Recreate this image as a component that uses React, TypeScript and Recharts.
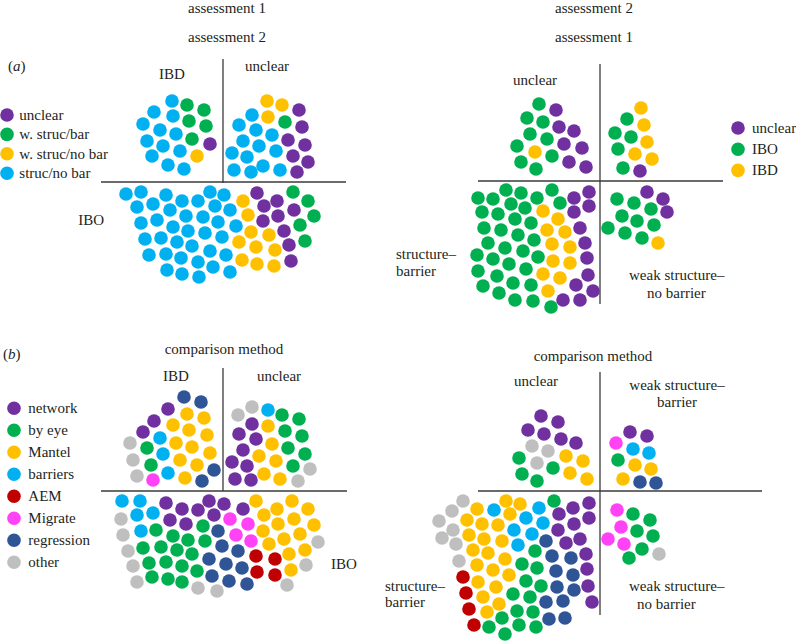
import React from 'react';
import { ScatterChart, Scatter, XAxis, YAxis, ReferenceLine } from 'recharts';

type Dot = [number, number, string];

// ---------- colours per category ----------
const colorsA1: Record<string, string> = { P: '#7030A0', G: '#00B050', Y: '#FFC000', B: '#00B0F0' };
const colorsA2: Record<string, string> = { P: '#7030A0', G: '#00B050', Y: '#FFC000' };
const colorsB: Record<string, string> = {
  P: '#7030A0', G: '#00B050', Y: '#FFC000', B: '#00B0F0',
  R: '#C00000', M: '#FF42F5', N: '#2F5597', O: '#BFBFBF',
};

// ---------- legends ----------
const legendA1Labels = ['unclear', 'w. struc/bar', 'w. struc/no bar', 'struc/no bar'];
const legendA1Keys = ['P', 'G', 'Y', 'B'];
const legendA2Labels = ['unclear', 'IBO', 'IBD'];
const legendA2Keys = ['P', 'G', 'Y'];
const legendBLabels = ['network', 'by eye', 'Mantel', 'barriers', 'AEM', 'Migrate', 'regression', 'other'];
const legendBKeys = ['P', 'G', 'Y', 'B', 'R', 'M', 'N', 'O'];

// ---------- panel (a), assessment 1 vs 2 ----------
const aLeftIBD: Dot[] = [
  [172,101,'B'],[187,105,'G'],[204,110,'G'],[154,112,'B'],[173,116,'B'],[189,121,'G'],[206,126,'G'],
  [143,124,'B'],[160,130,'B'],[176,134,'B'],[192,139,'G'],[210,144,'P'],[147,141,'B'],[163,146,'B'],
  [180,151,'B'],[197,156,'Y'],[152,156,'B'],[168,165,'B'],[184,169,'B'],
];
const aLeftUnclear: Dot[] = [
  [267,101,'Y'],[282,105,'Y'],[299,110,'P'],[252,115,'B'],[268,117,'Y'],[285,122,'G'],[302,127,'P'],
  [239,125,'B'],[256,130,'B'],[272,135,'B'],[288,140,'P'],[305,145,'P'],[243,141,'B'],[259,146,'B'],
  [276,151,'B'],[293,156,'P'],[308,162,'P'],[232,153,'B'],[247,157,'B'],[263,166,'B'],[280,170,'B'],
  [297,172,'P'],[234,170,'B'],[251,172,'B'],
];
const aLeftIBO: Dot[] = [
  [126,194,'B'],[141,192,'B'],[166,195,'B'],[182,201,'B'],[198,201,'B'],[210,192,'B'],[224,195,'B'],
  [243,201,'Y'],[257,193,'P'],[264,206,'P'],[277,201,'P'],[293,192,'G'],[308,201,'G'],
  [137,207,'B'],[153,204,'B'],[170,210,'B'],[186,216,'B'],[203,217,'B'],[215,206,'B'],[230,210,'B'],
  [248,215,'Y'],[294,210,'P'],[278,216,'P'],[314,216,'G'],[263,221,'P'],
  [141,223,'B'],[157,220,'B'],[173,227,'B'],[188,231,'B'],[205,233,'B'],[218,222,'B'],[236,226,'B'],
  [251,232,'Y'],[269,235,'Y'],[284,231,'P'],[300,225,'G'],
  [145,239,'B'],[161,238,'B'],[177,242,'B'],[192,246,'B'],[222,237,'B'],[239,242,'Y'],[256,247,'Y'],
  [275,250,'Y'],[289,245,'P'],[305,241,'G'],
  [149,255,'B'],[166,254,'B'],[181,258,'B'],[198,262,'B'],[210,251,'B'],[226,255,'B'],[242,260,'Y'],
  [257,264,'Y'],[274,266,'Y'],[291,261,'P'],
  [167,270,'B'],[182,274,'B'],[199,277,'B'],[213,267,'B'],[230,272,'B'],
];

// ---------- panel (a), assessment 2 vs 1 ----------
const aRightUnclear: Dot[] = [
  [539,104,'G'],[556,110,'P'],[527,118,'G'],[543,122,'G'],[559,127,'P'],[574,131,'P'],[530,134,'G'],
  [547,139,'G'],[564,144,'P'],[582,148,'P'],[517,146,'G'],[535,152,'Y'],[552,156,'G'],[569,162,'P'],
  [586,167,'P'],[521,162,'G'],[536,169,'G'],
];
const aRightWeakBarrier: Dot[] = [
  [641,108,'Y'],[627,119,'G'],[644,125,'Y'],[615,133,'G'],[631,137,'G'],[647,142,'Y'],[618,149,'G'],
  [635,154,'Y'],[652,159,'Y'],[623,168,'G'],[640,171,'P'],
];
const aRightStructBarrier: Dot[] = [
  [478,198,'G'],[493,199,'G'],[506,190,'G'],[521,193,'G'],[537,198,'G'],[552,190,'G'],[574,198,'P'],[589,192,'P'],
  [482,212,'G'],[498,214,'G'],[511,204,'G'],[525,208,'G'],[543,211,'Y'],[560,203,'G'],[574,212,'P'],[589,206,'P'],
  [484,228,'G'],[501,230,'G'],[515,219,'G'],[531,223,'G'],[547,230,'Y'],[558,219,'Y'],[565,232,'Y'],[580,228,'P'],
  [488,243,'G'],[505,248,'G'],[518,235,'G'],[534,240,'G'],[552,244,'Y'],[570,247,'Y'],[585,243,'P'],
  [477,255,'G'],[493,259,'G'],[509,264,'G'],[523,251,'G'],[538,257,'G'],[553,261,'Y'],[570,263,'Y'],[587,258,'P'],
  [478,271,'G'],[497,276,'G'],[513,283,'G'],[526,269,'G'],[543,274,'Y'],[560,278,'Y'],[588,275,'P'],
  [483,286,'G'],[499,293,'G'],[515,300,'G'],[531,285,'G'],[548,291,'Y'],[576,285,'P'],[593,291,'P'],[563,300,'P'],[580,300,'P'],
  [533,301,'G'],[551,307,'G'],
];
const aRightWeakNoBarrier: Dot[] = [
  [647,192,'P'],[663,199,'P'],[617,199,'G'],[634,203,'G'],[667,212,'P'],[651,209,'G'],[622,216,'G'],
  [637,221,'G'],[654,225,'G'],[608,228,'G'],[625,233,'G'],[642,238,'G'],[658,243,'Y'],
];

// ---------- panel (b), comparison method ----------
const bLeftIBD: Dot[] = [
  [184,397,'N'],[201,402,'N'],[168,409,'P'],[187,414,'Y'],[204,418,'Y'],[154,421,'P'],[173,425,'Y'],
  [189,430,'Y'],[207,435,'Y'],[143,432,'P'],[160,438,'B'],[176,443,'Y'],[192,447,'Y'],[210,453,'Y'],
  [130,443,'O'],[147,448,'G'],[163,454,'B'],[180,460,'Y'],[197,465,'Y'],[214,470,'N'],[133,460,'O'],
  [151,465,'G'],[168,473,'B'],[185,478,'Y'],[202,481,'N'],[137,476,'O'],[153,480,'M'],
];
const bLeftUnclear: Dot[] = [
  [252,407,'O'],[268,410,'B'],[238,415,'O'],[282,415,'G'],[299,419,'G'],[252,424,'P'],[268,426,'Y'],
  [239,434,'P'],[256,439,'P'],[285,431,'G'],[302,436,'G'],[272,444,'Y'],[243,450,'P'],[288,448,'G'],
  [305,454,'G'],[259,456,'Y'],[276,461,'Y'],[232,462,'P'],[247,466,'P'],[293,466,'G'],[310,469,'O'],
  [264,474,'Y'],[280,479,'Y'],[235,479,'P'],[251,480,'P'],[298,481,'O'],
];
const bLeftIBO: Dot[] = [
  [122,501,'B'],[140,501,'B'],[166,503,'P'],[182,509,'P'],[198,510,'P'],[209,501,'P'],[224,504,'P'],
  [243,509,'P'],[256,501,'Y'],[277,509,'Y'],[292,501,'Y'],[308,509,'Y'],
  [121,519,'O'],[137,515,'B'],[153,513,'B'],[170,520,'P'],[186,524,'P'],[214,515,'P'],[230,519,'M'],
  [264,515,'Y'],[278,524,'Y'],[294,519,'Y'],[314,525,'Y'],[203,526,'G'],[248,524,'M'],
  [141,531,'B'],[156,530,'G'],[173,536,'G'],[218,531,'N'],[236,535,'M'],[263,531,'Y'],[123,535,'O'],
  [188,540,'G'],[205,541,'G'],[251,541,'M'],[284,539,'Y'],[300,534,'Y'],
  [128,551,'O'],[143,548,'G'],[161,547,'G'],[177,550,'G'],[222,546,'N'],[238,551,'N'],[269,544,'Y'],
  [305,550,'Y'],[318,542,'O'],
  [192,554,'G'],[256,556,'R'],[275,559,'R'],[289,554,'Y'],
  [133,566,'O'],[149,563,'G'],[166,562,'G'],[182,566,'G'],[209,559,'N'],[226,564,'N'],[242,568,'N'],[306,565,'O'],
  [197,571,'G'],[257,572,'R'],[275,575,'R'],[291,570,'Y'],
  [137,582,'O'],[152,577,'G'],[168,579,'G'],[182,582,'G'],[212,576,'N'],[229,581,'N'],[247,584,'N'],
  [198,588,'O'],[217,591,'O'],[287,585,'O'],
];
const bRightUnclear: Dot[] = [
  [541,416,'P'],[558,422,'P'],[528,430,'P'],[544,434,'P'],[561,439,'P'],[576,443,'P'],[532,446,'O'],
  [548,451,'O'],[566,456,'Y'],[583,461,'Y'],[519,458,'G'],[537,463,'O'],[553,468,'G'],[570,473,'Y'],
  [587,479,'Y'],[522,474,'G'],[537,481,'G'],
];
const bRightWeakBarrier: Dot[] = [
  [630,432,'P'],[647,436,'P'],[616,443,'M'],[633,449,'B'],[649,453,'B'],[618,460,'G'],[635,465,'Y'],
  [651,469,'Y'],[623,479,'Y'],[640,482,'N'],[656,483,'N'],
];
const bRightStructBarrier: Dot[] = [
  [463,501,'O'],[477,509,'Y'],[494,510,'B'],[506,501,'Y'],[520,504,'Y'],[539,508,'B'],[554,501,'G'],[573,508,'P'],[589,503,'P'],
  [452,511,'O'],[439,521,'O'],[467,520,'Y'],[482,524,'Y'],[510,514,'Y'],[526,518,'B'],[543,523,'B'],[559,514,'P'],[574,524,'P'],[589,518,'P'],
  [453,530,'O'],[442,538,'O'],[469,535,'Y'],[484,539,'Y'],[498,525,'Y'],[514,530,'B'],[532,534,'B'],[558,530,'P'],[546,541,'N'],[566,543,'P'],[580,539,'P'],
  [456,544,'O'],[473,550,'Y'],[488,553,'Y'],[502,541,'Y'],[518,545,'B'],[535,551,'G'],[552,556,'N'],[571,558,'N'],[586,554,'P'],
  [459,561,'O'],[477,565,'Y'],[493,570,'Y'],[505,559,'Y'],[522,564,'G'],[537,568,'G'],[556,571,'N'],[573,575,'N'],[587,569,'P'],
  [463,577,'R'],[478,582,'Y'],[496,587,'Y'],[509,575,'Y'],[526,581,'G'],[541,586,'G'],[557,587,'N'],[574,590,'N'],[588,586,'P'],
  [466,593,'R'],[483,597,'Y'],[499,604,'Y'],[513,594,'G'],[530,597,'G'],[546,602,'N'],[563,601,'N'],[592,602,'P'],
  [469,609,'R'],[487,612,'Y'],[502,618,'G'],[517,611,'G'],[533,612,'G'],[549,619,'N'],[565,618,'N'],
  [474,625,'R'],[489,627,'G'],[505,634,'G'],[519,625,'G'],[536,627,'G'],
];
const bRightWeakNoBarrier: Dot[] = [
  [617,510,'M'],[633,514,'G'],[650,520,'G'],[621,527,'M'],[637,531,'G'],[653,536,'G'],[608,539,'M'],
  [624,544,'M'],[642,549,'G'],[659,554,'O'],[629,558,'G'],
];

// ---------- quadrant divider lines ----------
const dividers: [number, number, number, number][] = [
  [223, 59, 223, 183], [101, 182, 346, 182],
  [600, 64, 600, 304], [478, 181, 723, 181],
  [223, 368, 223, 491], [101, 491, 347, 491],
  [600, 372, 600, 615], [478, 491, 762, 491],
];

const toPoints = (dots: Dot[], colors: Record<string, string>) =>
  dots.map(([x, y, k]) => ({ x, y, fill: colors[k] }));

const legendPoints = (keys: string[], colors: Record<string, string>, x: number, y0: number, dy: number) =>
  keys.map((k, i) => ({ x, y: y0 + i * dy, fill: colors[k] }));

const series = [
  toPoints(aLeftIBD, colorsA1), toPoints(aLeftUnclear, colorsA1), toPoints(aLeftIBO, colorsA1),
  toPoints(aRightUnclear, colorsA2), toPoints(aRightWeakBarrier, colorsA2),
  toPoints(aRightStructBarrier, colorsA2), toPoints(aRightWeakNoBarrier, colorsA2),
  toPoints(bLeftIBD, colorsB), toPoints(bLeftUnclear, colorsB), toPoints(bLeftIBO, colorsB),
  toPoints(bRightUnclear, colorsB), toPoints(bRightWeakBarrier, colorsB),
  toPoints(bRightStructBarrier, colorsB), toPoints(bRightWeakNoBarrier, colorsB),
  legendPoints(legendA1Keys, colorsA1, 7, 115, 19.4),
  legendPoints(legendA2Keys, colorsA2, 738, 128, 21.2),
  legendPoints(legendBKeys, colorsB, 14, 408.3, 22),
];

const R = 6.8;
const dotShape = (p: any) => <circle cx={p.cx} cy={p.cy} r={R} fill={p.payload.fill} />;

const FONT = '"Liberation Serif", "Times New Roman", serif';
const INK = '#231F20';

type Label = { t: string; x: number; y: number; a?: 'start' | 'middle' | 'end' };
const labels: Label[] = [
  { t: 'assessment 1', x: 227, y: 13, a: 'middle' },
  { t: 'assessment 2', x: 227, y: 42, a: 'middle' },
  { t: 'IBD', x: 172, y: 79, a: 'middle' },
  { t: 'unclear', x: 267, y: 71, a: 'middle' },
  { t: 'IBO', x: 104, y: 225, a: 'end' },
  { t: 'assessment 2', x: 594, y: 13, a: 'middle' },
  { t: 'assessment 1', x: 594, y: 42, a: 'middle' },
  { t: 'unclear', x: 535, y: 85, a: 'middle' },
  { t: 'structure–', x: 396, y: 259 },
  { t: 'barrier', x: 396, y: 276 },
  { t: 'weak structure–', x: 629, y: 280 },
  { t: 'no barrier', x: 647, y: 298 },
  { t: 'comparison method', x: 224, y: 354, a: 'middle' },
  { t: 'IBD', x: 176, y: 381, a: 'middle' },
  { t: 'unclear', x: 279, y: 381, a: 'middle' },
  { t: 'IBO', x: 331, y: 569 },
  { t: 'comparison method', x: 593, y: 361, a: 'middle' },
  { t: 'unclear', x: 536, y: 386, a: 'middle' },
  { t: 'weak structure–', x: 677, y: 390, a: 'middle' },
  { t: 'barrier', x: 677, y: 407, a: 'middle' },
  { t: 'structure–', x: 385, y: 591 },
  { t: 'barrier', x: 385, y: 607 },
  { t: 'weak structure–', x: 629, y: 591 },
  { t: 'no barrier', x: 637, y: 609 },
];

export default function App() {
  return (
    <div style={{ position: 'absolute', left: 0, top: 0, width: 796, height: 642, background: '#fff' }}>
      <ScatterChart width={796} height={642} margin={{ top: 0, right: 0, bottom: 0, left: 0 }}>
        <XAxis type="number" dataKey="x" domain={[0, 796]} hide />
        <YAxis type="number" dataKey="y" domain={[0, 642]} reversed hide />
        {dividers.map(([x1, y1, x2, y2], i) => (
          <ReferenceLine
            key={'l' + i}
            segment={[{ x: x1, y: y1 }, { x: x2, y: y2 }]}
            stroke="#3a3a3a"
            strokeWidth={1.3}
            ifOverflow="visible"
          />
        ))}
        {series.map((d, i) => (
          <Scatter key={'s' + i} data={d} shape={dotShape} isAnimationActive={false} />
        ))}
      </ScatterChart>
      <svg
        width={796}
        height={642}
        style={{ position: 'absolute', left: 0, top: 0, pointerEvents: 'none' }}
        fontFamily={FONT}
        fontSize={15}
        fill={INK}
      >
        <text x={8} y={71}>(<tspan fontStyle="italic">a</tspan>)</text>
        <text x={3} y={359}>(<tspan fontStyle="italic">b</tspan>)</text>
        {labels.map((l, i) => (
          <text key={i} x={l.x} y={l.y} textAnchor={l.a || 'start'}>{l.t}</text>
        ))}
        {legendA1Labels.map((t, i) => (
          <text key={'la' + i} x={19.3} y={115 + i * 19.4 + 5}>{t}</text>
        ))}
        {legendA2Labels.map((t, i) => (
          <text key={'lb' + i} x={752} y={128 + i * 21.2 + 5}>{t}</text>
        ))}
        {legendBLabels.map((t, i) => (
          <text key={'lc' + i} x={28.3} y={408.3 + i * 22 + 5}>{t}</text>
        ))}
      </svg>
    </div>
  );
}
